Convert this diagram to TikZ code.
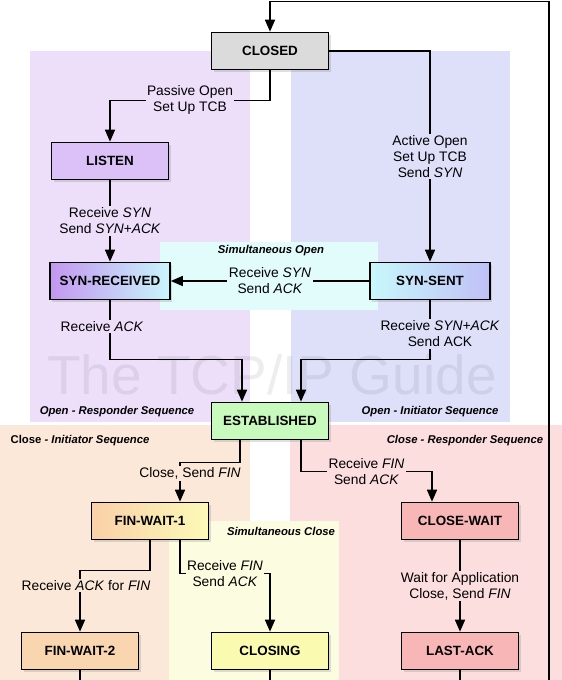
\documentclass[tikz,border=0pt]{standalone}
\usepackage{fontspec}
\setmainfont{Liberation Sans}
\usetikzlibrary{arrows.meta,positioning,shadows}

\definecolor{purplebg}{RGB}{237,223,250}
\definecolor{bluebg}{RGB}{222,224,250}
\definecolor{cyanbg}{RGB}{226,252,252}
\definecolor{orangebg}{RGB}{252,232,216}
\definecolor{pinkbg}{RGB}{252,222,222}
\definecolor{yellowbg}{RGB}{252,252,224}

\tikzset{
  state/.style={draw, line width=1.6pt, minimum width=117pt, minimum height=37pt,
    font=\fontsize{13.4}{15}\selectfont\bfseries,
    drop shadow={shadow xshift=2pt, shadow yshift=-2pt, opacity=0.25}},
  trans/.style={line width=1.6pt, -{Triangle[length=12pt,width=10pt]}},
  wire/.style={line width=1.6pt},
  lbl/.style={font=\fontsize{13.8}{16}\selectfont, align=center, inner sep=1.5pt},
  seqlbl/.style={font=\fontsize{11.3}{13}\selectfont\bfseries\itshape, inner sep=1pt}
}

\begin{document}
\begin{tikzpicture}[x=1pt,y=-1pt]
  \useasboundingbox (0,0) rectangle (562,680);

  % sequence areas
  \fill [purplebg] (30,51) rectangle (250,422);
  \fill [bluebg] (291,51) rectangle (510,422);
  \fill [orangebg] (0,425) rectangle (250,680);
  \fill [pinkbg] (290,425) rectangle (562,680);
  \fill [yellowbg] (169,521) rectangle (339,680);
  \fill [cyanbg] (160,242) rectangle (378,310);

  \node [text=black, opacity=0.07, inner sep=0pt, text depth=0pt, anchor=base, font=\fontsize{55}{58}\selectfont] (mark) at (272,394) {The TCP/IP Guide};

  \node [seqlbl] (simopen) at (271,251) {Simultaneous Open};
  \node [seqlbl] (openresp) at (117,412) {Open - Responder Sequence};
  \node [seqlbl] (openinit) at (430,412) {Open - Initiator Sequence};
  \node [seqlbl] (closeinit) at (80,441) {{\upshape Close} - Initiator Sequence};
  \node [seqlbl] (closeresp) at (465,441) {Close - Responder Sequence};
  \node [seqlbl] (simclose) at (281,531) {Simultaneous Close};

  % states
  \node [state, fill=black!14] (closed) at (270,51) {CLOSED};
  \node [state, fill={rgb,255:red,220;green,192;blue,248}] (listen) at (110,161) {LISTEN};
  \node [state, minimum width=120pt, left color={rgb,255:red,196;green,150;blue,240}, right color={rgb,255:red,200;green,246;blue,252}] (synrcvd) at (110,281) {SYN-RECEIVED};
  \node [state, minimum width=120pt, left color={rgb,255:red,200;green,248;blue,252}, right color={rgb,255:red,192;green,192;blue,246}] (synsent) at (430,281) {SYN-SENT};
  \node [state, fill={rgb,255:red,200;green,250;blue,190}] (estab) at (270,421) {ESTABLISHED};
  \node [state, left color={rgb,255:red,250;green,208;blue,168}, right color={rgb,255:red,252;green,250;blue,184}] (finwait1) at (150,521) {FIN-WAIT-1};
  \node [state, fill={rgb,255:red,248;green,182;blue,182}] (closewait) at (460,521) {CLOSE-WAIT};
  \node [state, fill={rgb,255:red,250;green,214;blue,176}] (finwait2) at (80,651) {FIN-WAIT-2};
  \node [state, fill={rgb,255:red,250;green,250;blue,176}] (closing) at (270,651) {CLOSING};
  \node [state, fill={rgb,255:red,248;green,182;blue,182}] (lastack) at (460,651) {LAST-ACK};

  \coordinate (topright) at (549,1.5);
  \coordinate (botright) at (549,680);
  \coordinate (bottom) at (0,680);

  % open
  \draw [trans] (botright) -- (topright) -| (closed.north);
  \draw [trans] (closed.south) -- ++(0,30) -| node [lbl, pos=0.25, fill=purplebg] {Passive Open\\Set Up TCB} (listen.north);
  \draw [trans] (closed.east) -| node [lbl, pos=0.75, fill=bluebg] {Active Open\\Set Up TCB\\Send \textit{SYN}} (synsent.north);
  \draw [trans] (listen) -- node [lbl, fill=purplebg] {Receive \textit{SYN}\\Send \textit{SYN+ACK}} (synrcvd);
  \draw [trans] (synsent) -- node [lbl, fill=cyanbg] {Receive \textit{SYN}\\Send \textit{ACK}} (synrcvd);
  \draw [trans] (synrcvd.south) -- node [lbl, pos=0.44, xshift=-8pt, fill=purplebg] {Receive \textit{ACK}} ++(0,59) -| ([xshift=-28pt]estab.north);
  \draw [trans] (synsent.south) -- node [lbl, pos=0.57, xshift=10pt, fill=bluebg] {Receive \textit{SYN+ACK}\\Send ACK} ++(0,59) -| ([xshift=31pt]estab.north);

  % close
  \draw [trans] ([xshift=-30pt]estab.south) -- ++(0,22) -| node [lbl, pos=0.64, xshift=10pt, fill=orangebg] {Close, Send \textit{FIN}} ([xshift=30pt]finwait1.north);
  \draw [trans] ([xshift=31pt]estab.south) -- ++(0,31) -| node [lbl, pos=0.25, fill=pinkbg] {Receive \textit{FIN}\\Send \textit{ACK}} ([xshift=-28pt]closewait.north);
  \draw [trans] (finwait1.south) -- ++(0,30) -| node [lbl, pos=0.625, xshift=6pt, fill=orangebg] {Receive \textit{ACK} for \textit{FIN}} (finwait2.north);
  \draw [trans] ([xshift=30pt]finwait1.south) -- ++(0,33) -| node [lbl, pos=0.25, fill=yellowbg] {Receive \textit{FIN}\\Send \textit{ACK}} (closing.north);
  \draw [trans] (closewait) -- node [lbl, fill=pinkbg] {Wait for Application\\Close, Send \textit{FIN}} (lastack);

  \draw [wire] (finwait2.south) -- (finwait2.south |- bottom);
  \draw [wire] (closing.south) -- (closing.south |- bottom);
  \draw [wire] (lastack.south) -- (lastack.south |- bottom);
\end{tikzpicture}
\end{document}
